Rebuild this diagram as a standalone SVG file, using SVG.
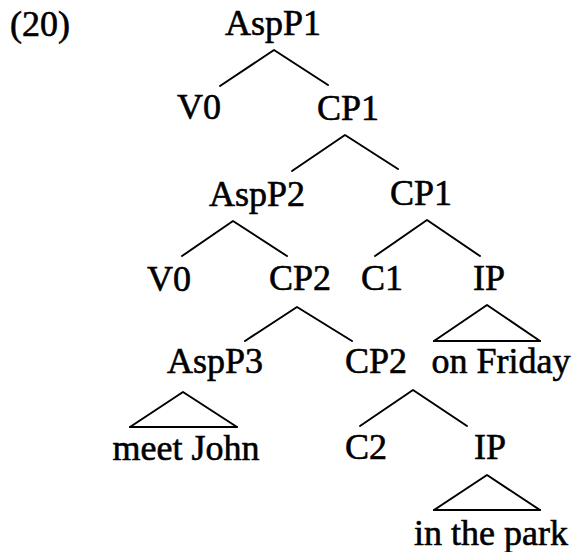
<svg xmlns="http://www.w3.org/2000/svg" width="574" height="552" viewBox="0 0 574 552">
<style>
text{font-family:"Liberation Serif","Times New Roman",serif;font-size:36px;fill:#000;stroke:#000;stroke-width:0.6;text-anchor:middle}
.e line,.e polyline{stroke:#000;stroke-width:2;fill:none;stroke-linecap:round;stroke-linejoin:round}
.b{stroke-width:3}
</style>
<rect width="574" height="552" fill="#fff"/>
<text x="40" y="36">(20)</text>
<g id="n-AspP1"><text x="273" y="35">AspP1</text></g>
<g id="n-V0a"><text x="199" y="119">V0</text></g>
<g id="n-CP1a"><text x="348" y="120">CP1</text></g>
<g id="n-AspP2"><text x="257" y="206">AspP2</text></g>
<g id="n-CP1b"><text x="421" y="205">CP1</text></g>
<g id="n-V0b"><text x="169" y="291">V0</text></g>
<g id="n-CP2a"><text x="300" y="290">CP2</text></g>
<g id="n-C1"><text x="382" y="290">C1</text></g>
<g id="n-IPa"><text x="489" y="290">IP</text></g>
<g id="n-AspP3"><text x="215" y="373">AspP3</text></g>
<g id="n-CP2b"><text x="376" y="373">CP2</text></g>
<g id="n-onFriday"><text x="501" y="373">on Friday</text></g>
<g id="n-meetJohn"><text x="186" y="460">meet John</text></g>
<g id="n-C2"><text x="366" y="459">C2</text></g>
<g id="n-IPb"><text x="490" y="459">IP</text></g>
<g id="n-inthepark"><text x="491" y="545">in the park</text></g>
<g id="edges" class="e">
<polyline points="220,86 274,50 328,85"/>
<polyline points="292,171 345,135 398,169"/>
<polyline points="182,256 233,221 287,256"/>
<polyline points="375,256 427,220 480,256"/>
<polyline points="245,341 297,307 352,341"/>
<polyline points="360,426 413,390 467,426"/>
<polyline points="434,341 487,305 540,341"/>
<line class="b" x1="434" y1="341" x2="540" y2="341"/>
<polyline points="130,427 183,392 237,427"/>
<line class="b" x1="130" y1="427" x2="237" y2="427"/>
<polyline points="434,510 487,475 540,510"/>
<line class="b" x1="434" y1="510" x2="540" y2="510"/>
</g>
</svg>
